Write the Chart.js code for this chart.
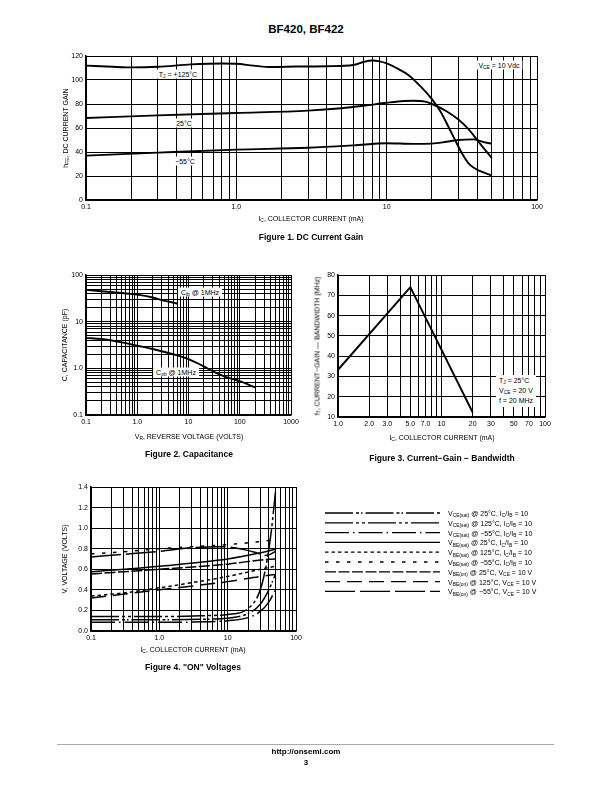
<!DOCTYPE html>
<html>
<head>
<meta charset="utf-8">
<title>BF420, BF422</title>
<script src="https://cdn.jsdelivr.net/npm/chart.js"></script>
<style>
  body { margin: 0; background: #fff; }
  #page { position: relative; width: 612px; height: 792px; overflow: hidden; color: #000;
          font-family: "Liberation Sans Narrow", "Liberation Sans", Arial, sans-serif; }
  #page canvas { position: absolute; z-index: 1; }
  .t { position: absolute; white-space: nowrap; z-index: 2; transform: translate(-50%, -50%); font-size: 7px; line-height: 1; color: #000; }
  .rot { transform: translate(-50%, -50%) rotate(-90deg); }
  .cap { font-family: "Liberation Sans", Arial, sans-serif; font-weight: bold; font-size: 8.5px; }
  .note { background: #fff; padding: 1px 3px; }
  .lg { transform: translate(0, -50%); }
  sub { font-size: 70%; vertical-align: baseline; position: relative; top: 0.3em; line-height: 0; }
</style>
</head>
<body>
<div id="page">
  <div class="t cap" style="left:306px; top:30px; font-size:11.5px;">BF420, BF422</div>

  <!-- Figure 1 texts -->
  <div class="t rot" style="left:65px; top:128px;">h<sub>FE</sub>, DC CURRENT GAIN</div>
  <div class="t" style="left:311px; top:218px;">I<sub>C</sub>, COLLECTOR CURRENT (mA)</div>
  <div class="t cap" style="left:311px; top:237px;">Figure 1. DC Current Gain</div>
  <div class="t note" style="left:178px; top:74px;">T<sub>J</sub> = +125°C</div>
  <div class="t note" style="left:184px; top:123px;">25°C</div>
  <div class="t note" style="left:185px; top:161px;">−55°C</div>
  <div class="t note" style="left:499px; top:65px;">V<sub>CE</sub> = 10 Vdc</div>

  <!-- Figure 2 texts -->
  <div class="t rot" style="left:64px; top:345px;">C, CAPACITANCE (pF)</div>
  <div class="t" style="left:189px; top:436px;">V<sub>R</sub>, REVERSE VOLTAGE (VOLTS)</div>
  <div class="t cap" style="left:189px; top:454px;">Figure 2. Capacitance</div>
  <div class="t note" style="left:200px; top:292px;">C<sub>ib</sub> @ 1MHz</div>
  <div class="t note" style="left:176px; top:372px;">C<sub>ob</sub> @ 1MHz</div>

  <!-- Figure 3 texts -->
  <div class="t rot" style="left:317px; top:346px;">f<sub>T</sub>, CURRENT−GAIN — BANDWIDTH (MHz)</div>
  <div class="t" style="left:442px; top:437px;">I<sub>C</sub>, COLLECTOR CURRENT (mA)</div>
  <div class="t cap" style="left:442px; top:458px;">Figure 3. Current−Gain − Bandwidth</div>
  <div class="t note" style="left:516px; top:391px; line-height:10px;">
    T<sub>J</sub> = 25°C<br>V<sub>CE</sub> = 20 V<br>f = 20 MHz
  </div>

  <!-- Figure 4 texts -->
  <div class="t rot" style="left:64px; top:559px;">V, VOLTAGE (VOLTS)</div>
  <div class="t" style="left:193px; top:649px;">I<sub>C</sub>, COLLECTOR CURRENT (mA)</div>
  <div class="t cap" style="left:193px; top:667px;">Figure 4. "ON" Voltages</div>
  <svg id="legendKeys" width="612" height="792" style="position:absolute; left:0; top:0; z-index:2;"></svg>

  <div style="position:absolute; left:57px; top:744px; width:497px; height:0; border-top:1.5px solid #aaa;"></div>
  <div class="t cap" style="left:306px; top:752px; font-size:8px;">http://onsemi.com</div>
  <div class="t cap" style="left:306px; top:763px; font-size:8px;">3</div>
</div>

<script>
  // ---- Figure 1: DC current gain ----
  const decades1 = [0.1, 1, 10, 100];
  const fig1XTicks = [0.1, 1, 10, 100];
  const fig1XLabels = ['0.1', '1.0', '10', '100'];
  const fig1YTicks = [0, 20, 40, 60, 80, 100, 120];
  const fig1YLabels = ['0', '20', '40', '60', '80', '100', '120'];

  const gain125Ic = [0.1, 0.15, 0.2, 0.3, 0.5, 0.8, 1, 1.3, 1.7, 2.5, 4, 6, 7, 8, 9, 10, 12, 14, 17, 20, 23, 26, 28.5, 32, 36, 42, 50];
  const gain125 = [112, 111, 110.5, 111, 113, 113.8, 113.5, 112, 110.8, 111.2, 111.5, 112.5, 115, 116.3, 115.5, 113.8, 109, 104, 94, 84, 73, 60, 50, 38, 29, 24, 20.5];
  const gain25Ic = [0.1, 0.3, 1, 3, 5, 7, 10, 13, 15, 18, 20, 25, 30, 35, 40, 45, 50];
  const gain25 = [68.3, 70.5, 72.5, 74.5, 76.5, 78.5, 81, 82.5, 82.7, 82, 80, 74, 67, 59, 50, 42, 35];
  const gainM55Ic = [0.1, 0.3, 1, 3, 6, 10, 15, 20, 25, 30, 38, 45, 50];
  const gainM55 = [37, 39.5, 42, 43.5, 45.5, 47.3, 46.8, 47, 48.5, 50, 50.5, 48, 47];

  // ---- Figure 2: capacitance ----
  const decades2X = [0.1, 1, 10, 100, 1000];
  const fig2XTicks = [0.1, 1, 10, 100, 1000];
  const fig2XLabels = ['0.1', '1.0', '10', '100', '1000'];
  const decades2Y = [0.1, 1, 10, 100];
  const fig2YTicks = [0.1, 1, 10, 100];
  const fig2YLabels = ['0.1', '1.0', '10', '100'];

  const cibVr = [0.1, 0.2, 0.5, 1, 2, 3, 4, 6];
  const cib = [48, 45, 41, 38, 33, 29, 27, 24.5];
  const cobVr = [0.1, 0.2, 0.5, 1, 2, 5, 10, 20, 30, 50, 100, 200];
  const cob = [4.5, 4.25, 3.6, 3.05, 2.6, 2.0, 1.58, 1.1, 0.86, 0.67, 0.53, 0.39];

  // ---- Figure 3: current-gain bandwidth ----
  const decades3 = [1, 10, 100];
  const fig3XTicks = [1, 2, 3, 5, 7, 10, 20, 30, 50, 70, 100];
  const fig3XLabels = ['1.0', '2.0', '3.0', '5.0', '7.0', '10', '20', '30', '50', '70', '100'];
  const fig3YTicks = [10, 20, 30, 40, 50, 60, 70, 80];
  const fig3YLabels = ['10', '20', '30', '40', '50', '60', '70', '80'];
  const ftIc = [1, 5, 20];
  const ft = [33.3, 74, 12.3];

  // ---- Figure 4: "ON" voltages ----
  const fig4YTicks = [0, 0.2, 0.4, 0.6, 0.8, 1.0, 1.2, 1.4];
  const fig4YLabels = ['0.0', '0.2', '0.4', '0.6', '0.8', '1.0', '1.2', '1.4'];

  const vceSat25Ic = [0.1, 1, 5, 10, 20, 30, 40, 50];
  const vceSat25 = [0.11, 0.11, 0.115, 0.125, 0.17, 0.26, 0.4, 0.55];
  const vceSat125Ic = [0.1, 1, 5, 10, 20, 30, 38, 44, 50];
  const vceSat125 = [0.14, 0.14, 0.15, 0.16, 0.22, 0.4, 0.7, 1.0, 1.35];
  const vceSatM55Ic = [0.1, 1, 5, 10, 20, 30, 40, 50];
  const vceSatM55 = [0.085, 0.085, 0.09, 0.1, 0.13, 0.19, 0.28, 0.4];
  const vbeSat25Ic = [0.1, 1, 10, 30, 50];
  const vbeSat25 = [0.575, 0.63, 0.7, 0.76, 0.795];
  const vbeSat125Ic = [0.1, 0.3, 1, 3, 10, 30, 50];
  const vbeSat125 = [0.34, 0.37, 0.42, 0.47, 0.53, 0.6, 0.63];
  const vbeSatM55Ic = [0.1, 0.3, 1, 3, 10, 30, 50];
  const vbeSatM55 = [0.75, 0.77, 0.8, 0.82, 0.84, 0.87, 0.89];
  const vbeOn25Ic = [0.1, 1, 10, 30, 50];
  const vbeOn25 = [0.555, 0.6, 0.65, 0.69, 0.7];
  const vbeOn125Ic = [0.1, 1, 10, 30, 50];
  const vbeOn125 = [0.32, 0.4, 0.48, 0.53, 0.55];
  const vbeOnM55Ic = [0.1, 0.3, 1, 3, 8, 15, 25, 35, 42, 50];
  const vbeOnM55 = [0.72, 0.745, 0.775, 0.81, 0.82, 0.8, 0.765, 0.735, 0.745, 0.775];

  const fig4Labels = [
    'V<sub>CE(sat)</sub> @ 25°C, I<sub>C</sub>/I<sub>B</sub> = 10',
    'V<sub>CE(sat)</sub> @ 125°C, I<sub>C</sub>/I<sub>B</sub> = 10',
    'V<sub>CE(sat)</sub> @ −55°C, I<sub>C</sub>/I<sub>B</sub> = 10',
    'V<sub>BE(sat)</sub> @ 25°C, I<sub>C</sub>/I<sub>B</sub> = 10',
    'V<sub>BE(sat)</sub> @ 125°C, I<sub>C</sub>/I<sub>B</sub> = 10',
    'V<sub>BE(sat)</sub> @ −55°C, I<sub>C</sub>/I<sub>B</sub> = 10',
    'V<sub>BE(on)</sub> @ 25°C, V<sub>CE</sub> = 10 V',
    'V<sub>BE(on)</sub> @ 125°C, V<sub>CE</sub> = 10 V',
    'V<sub>BE(on)</sub> @ −55°C, V<sub>CE</sub> = 10 V'
  ];
  const fig4Dashes = [
    [28, 3, 3, 2, 1.5, 3],
    [28, 3, 3, 3, 3, 3],
    [24, 4, 1.5, 4],
    [],
    [3.5, 3],
    [3.5, 7.5],
    [11, 2.5],
    [15, 7],
    [30, 5]
  ];

  const FONT = { family: '"Liberation Sans Narrow", "Liberation Sans", Arial, sans-serif', size: 7 };

  // gridlines at 1..9 of every decade
  function logGrid(decades) {
    const out = [];
    for (let i = 0; i < decades.length - 1; i++)
      for (let m = 1; m < 10; m++) out.push(+(decades[i] * m).toPrecision(3));
    out.push(decades[decades.length - 1]);
    return out;
  }

  function tickText(vals, texts, v) {
    const i = vals.findIndex(t => Math.abs(t - v) <= Math.abs(t) * 1e-6 + 1e-9);
    return i < 0 ? '' : texts[i];
  }

  function axis(type, grid, tickVals, tickTexts) {
    return {
      type,
      min: grid[0],
      max: grid[grid.length - 1],
      afterBuildTicks: s => { s.ticks = grid.map(v => ({ value: v })); },
      ticks: {
        autoSkip: false, maxRotation: 0, padding: 3, color: '#000', font: FONT,
        callback: v => tickText(tickVals, tickTexts, v)
      },
      grid: { color: '#000', lineWidth: 1, drawTicks: false },
      border: { color: '#000', width: 1.5 }
    };
  }

  function series(xs, ys, dash, smooth, width) {
    return {
      data: xs.map((x, i) => ({ x, y: ys[i] })),
      borderColor: '#000',
      borderWidth: width || 1.9,
      borderDash: dash || [],
      pointRadius: 0,
      fill: false,
      tension: 0,
      cubicInterpolationMode: smooth === false ? 'default' : 'monotone'
    };
  }

  function plot(box, xAxis, yAxis, datasets) {
    const cv = document.createElement('canvas');
    const w = box.yW + box.w + box.padR, h = box.padT + box.h + box.xH;
    cv.width = w; cv.height = h;
    cv.style.left = (box.x - box.yW) + 'px';
    cv.style.top = (box.y - box.padT) + 'px';
    cv.style.width = w + 'px';
    cv.style.height = h + 'px';
    document.getElementById('page').appendChild(cv);
    xAxis.afterFit = s => { s.height = box.xH; };
    yAxis.afterFit = s => { s.width = box.yW; };
    return new Chart(cv, {
      type: 'line',
      data: { datasets },
      options: {
        responsive: false,
        animation: false,
        events: [],
        layout: { padding: { top: box.padT, right: box.padR, left: 0, bottom: 0 } },
        plugins: { legend: { display: false }, tooltip: { enabled: false } },
        scales: { x: xAxis, y: yAxis }
      }
    });
  }

  plot({ x: 86, y: 56, w: 451, h: 144, yW: 40, xH: 18, padT: 8, padR: 16 },
    axis('logarithmic', logGrid(decades1), fig1XTicks, fig1XLabels),
    axis('linear', fig1YTicks, fig1YTicks, fig1YLabels),
    [series(gain125Ic, gain125), series(gain25Ic, gain25), series(gainM55Ic, gainM55)]);

  plot({ x: 86, y: 275, w: 205, h: 140, yW: 30, xH: 18, padT: 8, padR: 16 },
    axis('logarithmic', logGrid(decades2X), fig2XTicks, fig2XLabels),
    axis('logarithmic', logGrid(decades2Y), fig2YTicks, fig2YLabels),
    [series(cibVr, cib), series(cobVr, cob)]);

  plot({ x: 338, y: 275, w: 207, h: 142, yW: 24, xH: 18, padT: 8, padR: 16 },
    axis('logarithmic', logGrid(decades3), fig3XTicks, fig3XLabels),
    axis('linear', fig3YTicks, fig3YTicks, fig3YLabels),
    [series(ftIc, ft, [], false, 2)]);

  const fig4Data = [
    [vceSat25Ic, vceSat25], [vceSat125Ic, vceSat125], [vceSatM55Ic, vceSatM55],
    [vbeSat25Ic, vbeSat25], [vbeSat125Ic, vbeSat125], [vbeSatM55Ic, vbeSatM55],
    [vbeOn25Ic, vbeOn25], [vbeOn125Ic, vbeOn125], [vbeOnM55Ic, vbeOnM55]
  ];
  plot({ x: 91, y: 487, w: 205, h: 144, yW: 30, xH: 18, padT: 8, padR: 16 },
    axis('logarithmic', logGrid(decades1), fig1XTicks, fig1XLabels),
    axis('linear', fig4YTicks, fig4YTicks, fig4YLabels),
    fig4Data.map((d, i) => series(d[0], d[1], fig4Dashes[i], true, 1.5)));

  // legend for figure 4
  const svg = document.getElementById('legendKeys');
  const page = document.getElementById('page');
  fig4Labels.forEach((txt, i) => {
    const y = 513 + i * 9.8;
    const ln = document.createElementNS('http://www.w3.org/2000/svg', 'line');
    ln.setAttribute('x1', 325); ln.setAttribute('x2', 440);
    ln.setAttribute('y1', y); ln.setAttribute('y2', y);
    ln.setAttribute('stroke', '#000'); ln.setAttribute('stroke-width', 1.3);
    if (fig4Dashes[i].length) ln.setAttribute('stroke-dasharray', fig4Dashes[i].join(' '));
    svg.appendChild(ln);
    const d = document.createElement('div');
    d.className = 't lg';
    d.style.left = '448px';
    d.style.top = y + 'px';
    d.innerHTML = txt;
    page.appendChild(d);
  });
</script>
</body>
</html>
